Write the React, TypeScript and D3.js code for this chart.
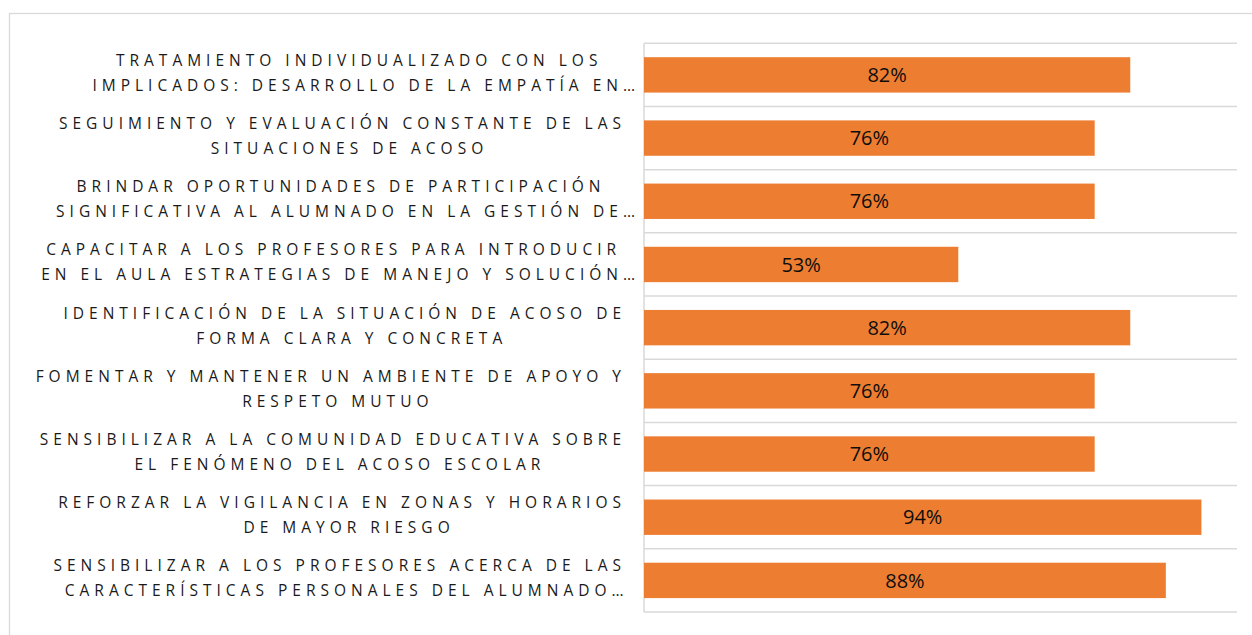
import { useEffect, useRef } from "react";
import * as d3 from "d3";

const categories = [
  ["TRATAMIENTO INDIVIDUALIZADO CON LOS", "IMPLICADOS: DESARROLLO DE LA EMPATÍA EN…"],
  ["SEGUIMIENTO Y EVALUACIÓN CONSTANTE DE LAS", "SITUACIONES DE ACOSO"],
  ["BRINDAR OPORTUNIDADES DE PARTICIPACIÓN", "SIGNIFICATIVA AL ALUMNADO EN LA GESTIÓN DE…"],
  ["CAPACITAR A LOS PROFESORES PARA INTRODUCIR", "EN EL AULA ESTRATEGIAS DE MANEJO Y SOLUCIÓN…"],
  ["IDENTIFICACIÓN DE LA SITUACIÓN DE ACOSO DE", "FORMA CLARA Y CONCRETA"],
  ["FOMENTAR Y MANTENER UN AMBIENTE DE APOYO Y", "RESPETO MUTUO"],
  ["SENSIBILIZAR A LA COMUNIDAD EDUCATIVA SOBRE", "EL FENÓMENO DEL ACOSO ESCOLAR"],
  ["REFORZAR LA VIGILANCIA EN ZONAS Y HORARIOS", "DE MAYOR RIESGO"],
  ["SENSIBILIZAR A LOS PROFESORES ACERCA DE LAS", "CARACTERÍSTICAS PERSONALES DEL ALUMNADO…"],
];
const values = [0.82, 0.76, 0.76, 0.53, 0.82, 0.76, 0.76, 0.94, 0.88];

export default function App() {
  const ref = useRef<SVGSVGElement>(null);

  useEffect(() => {
    const svg = d3.select(ref.current);
    svg.selectAll("*").remove();

    const height = 635;
    const margin = { top: 43.3, right: 15, bottom: 23, left: 644 };
    const font = "'Open Sans', sans-serif";
    const idx = categories.map((_, i) => i);

    svg.append("rect")
      .attr("x", 9.5).attr("y", 13.5)
      .attr("width", 1300).attr("height", 700)
      .attr("fill", "#fff").attr("stroke", "#d9d9d9").attr("stroke-width", 1.3);

    const x = d3.scaleLinear().domain([0, 1]).range([margin.left, 1237]);
    const y = d3.scaleBand<number>()
      .domain(idx)
      .range([margin.top, height - margin.bottom])
      .paddingInner(0.44)
      .paddingOuter(0.22);
    const step = y.step();

    // grid lines at category boundaries
    svg.append("g")
      .selectAll("line")
      .data(d3.range(categories.length + 1))
      .join("line")
      .attr("x1", margin.left)
      .attr("x2", 1237)
      .attr("y1", i => margin.top + i * step)
      .attr("y2", i => margin.top + i * step)
      .attr("stroke", "#d9d9d9")
      .attr("stroke-width", 1.5);

    svg.append("line")
      .attr("x1", margin.left).attr("x2", margin.left)
      .attr("y1", margin.top).attr("y2", margin.top + categories.length * step)
      .attr("stroke", "#d9d9d9").attr("stroke-width", 1.5);

    svg.append("g")
      .selectAll("rect")
      .data(idx)
      .join("rect")
      .attr("x", x(0))
      .attr("y", i => y(i)!)
      .attr("width", i => x(values[i]) - x(0))
      .attr("height", y.bandwidth())
      .attr("fill", "#ED7D31");

    svg.append("g")
      .selectAll("text")
      .data(idx)
      .join("text")
      .attr("x", i => (x(0) + x(values[i])) / 2)
      .attr("y", i => y(i)! + y.bandwidth() / 2)
      .attr("dy", "0.36em")
      .attr("text-anchor", "middle")
      .attr("font-family", font)
      .attr("font-size", 20)
      .attr("fill", "#0d0d0d")
      .text(i => `${Math.round(values[i] * 100)}%`);

    // wrapped category labels: lines centred in a block that sits against the axis
    const ls = 5;
    const trail = 14; // width of the wrapped trailing space
    const right = 635;
    const labels = svg.append("g");
    idx.forEach(i => {
      const c = y(i)! + y.bandwidth() / 2;
      const lines = categories[i];
      const texts = lines.map((line, k) =>
        labels.append("text")
          .attr("y", c + (k === 0 ? -9 : 16))
          .attr("font-family", font)
          .attr("font-size", 15.5)
          .attr("letter-spacing", ls)
          .attr("fill", "#1a1a1a")
          .text(line)
      );
      const eff = texts.map((t, k) => {
        const w = (t.node() as SVGTextElement).getComputedTextLength() - ls;
        const hasTrail = k < lines.length - 1 && !lines[k].endsWith("…");
        return { w, e: w + (hasTrail ? trail : 0) };
      });
      const block = d3.max(eff, d => d.e) || 0;
      const center = right - block / 2;
      texts.forEach((t, k) => t.attr("x", center - eff[k].e / 2));
    });
  }, []);

  return (
    <svg
      ref={ref}
      width={1252}
      height={635}
      style={{ position: "absolute", left: 0, top: 0, display: "block" }}
    />
  );
}
